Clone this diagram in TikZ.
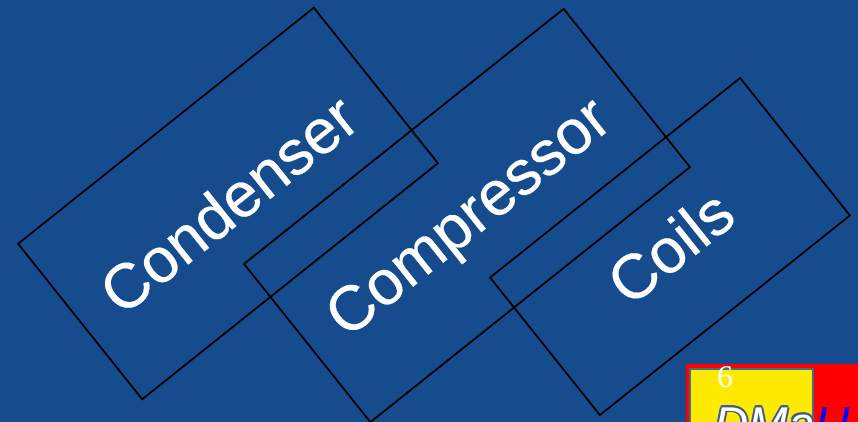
\documentclass[tikz,border=0pt]{standalone}
\usepackage{fontspec}
\setmainfont{Liberation Sans}
\newfontfamily\labelfont[FakeBold=0.4]{Liberation Sans}
\newfontfamily\numfont{Liberation Serif}
\usepackage[copies]{contour}
\contournumber{8}
\contourlength{1pt}
\definecolor{slideblue}{RGB}{22,76,141}
\definecolor{logoyellow}{RGB}{255,235,0}
\definecolor{logoedge}{RGB}{70,110,130}
\definecolor{logosteel}{RGB}{60,90,140}
\tikzset{
	partbox/.style={draw=black, line width=1pt, rotate=38.6, inner sep=0pt, text=white, text depth=0pt, font=\labelfont\fontsize{35.8}{40}\selectfont},
	logotext/.style={anchor=base west, inner sep=0pt, font=\itshape\fontsize{27}{30}\selectfont},
}
\begin{document}
\begin{tikzpicture}[x=0.02cm, y=-0.02cm]
	\useasboundingbox (0,0) rectangle (858,422);
	\clip (0,0) rectangle (858,422);
	% Фон
	\fill[slideblue] (0,0) rectangle (858,422);

	% Блоки
	\node[partbox, minimum width=7.57cm, minimum height=3.98cm] (condenser) at (228,203.5) {Condenser};
	\node[partbox, minimum width=8.18cm, minimum height=4.05cm] (compressor) at (467,215.5) {Compressor};
	\node[partbox, minimum width=6.40cm, minimum height=3.52cm] (coils) at (670,246.5) {Coils};

	% Логотип
	\fill[red] (686,364) rectangle (858,422);
	\draw[logoedge, fill=logoyellow, line width=0.6pt] (690,369) rectangle (813,430);
	\node[logotext] (logoleft) at (714,440) {\contour{logosteel}{\textcolor{white}{DMa}}};
	\node[logotext, text=blue] (logoright) at (815,440) {U};
	\node[text=white, font=\numfont\fontsize{18}{20}\selectfont, inner sep=0pt] (pagenum) at (725,377) {6};
\end{tikzpicture}
\end{document}
